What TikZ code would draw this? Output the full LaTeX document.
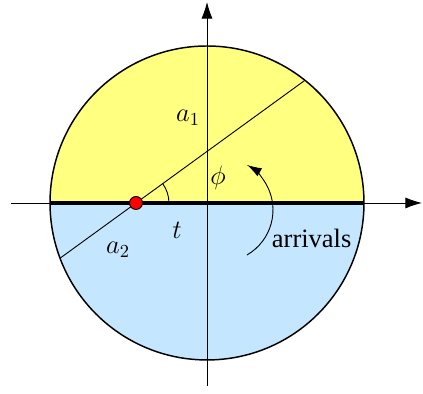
\documentclass[tikz,border=0pt]{standalone}
\usepackage{fontspec}
\usepackage{amsmath}
\usepackage{tikz}
\usetikzlibrary{arrows.meta}
\newfontfamily\arrivalsfont{Liberation Serif}
\definecolor{upperyellow}{RGB}{255,255,128}
\definecolor{lowerblue}{RGB}{196,230,255}

\begin{document}
\begin{tikzpicture}[
    axis/.style={line width=0.5pt, -{Latex[length=9pt,width=6pt]}},
    thinline/.style={line width=0.5pt},
    rim/.style={line width=0.8pt}]
    \useasboundingbox (-3.956,-3.650) rectangle (4.128,3.879);

    % Half discs
    \fill[upperyellow] (3,0) arc (0:180:3) -- cycle;
    \fill[lowerblue] (-3,0) arc (180:360:3) -- cycle;
    \draw[rim] (0,0) circle (3);

    % Axes
    \draw[axis] (-3.745,0) -- (4.108,0);
    \draw[axis] (0,-3.497) -- (0,3.841);

    % Diameter
    \draw[line width=2pt] (-3,0) -- (3,0);

    % Chord through the point
    \coordinate (p) at (-1.357,0);
    \coordinate (a1end) at (51.4:3);
    \coordinate (a2end) at (200.6:3);
    \draw[thinline] (a2end) -- (a1end);
    \draw[thinline] (-0.727,0) arc (0:36:0.63);

    % Point
    \filldraw[fill=red, draw=black, line width=0.5pt] (p) circle (0.124);

    % Labels
    \node (a1) at (-0.363,1.624) {\Large $a_1$};
    \node (a2) at (-1.70,-0.90) {\Large $a_2$};
    \node (phi) at (0.21,0.478) {\Large $\phi$};
    \node (t) at (-0.573,-0.516) {\Large $t$};

    % Arrivals
    \draw[thinline, -{Latex[length=8pt,width=5pt]}] (0.764,-0.994) arc (-60:60:0.994);
    \node (arrivals) at (2.0,-0.68) {\Large\arrivalsfont arrivals};
\end{tikzpicture}
\end{document}
